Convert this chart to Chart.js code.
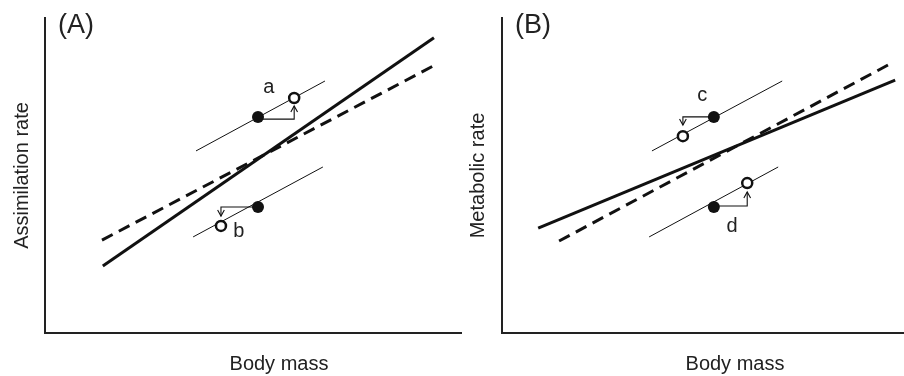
<!DOCTYPE html>
<html>
<head>
<meta charset="utf-8">
<script src="https://cdn.jsdelivr.net/npm/chart.js@4/dist/chart.umd.min.js"></script>
<style>
  body { margin: 0; background: #fff; }
  #wrap { position: relative; width: 904px; height: 376px; }
  canvas { position: absolute; top: 0; }
  #cA { left: 0; }
  #cB { left: 450px; }
</style>
</head>
<body>
<div id="wrap">
  <canvas id="cA" width="462" height="376"></canvas>
  <canvas id="cB" width="454" height="376"></canvas>
</div>
<script>
// both panels use a 0..100 arbitrary scale (no ticks in the figure)
const axisRange = [0, 100];

// panel A - assimilation rate
const aSolidX = [13.9, 93.5], aSolidY = [21.3, 93.7];
const aDashX = [13.7, 93.8], aDashY = [29.5, 85.1];
const aUpperX = [36.3, 67.3], aUpperY = [57.8, 80.0];
const aLowerX = [35.6, 66.8], aLowerY = [30.5, 52.7];
const aFilledX = [51.2, 51.2], aFilledY = [68.6, 40.0];
const aOpenX = [59.9, 42.3], aOpenY = [74.6, 34.0];
const aArrow1X = [51.2, 59.9, 59.9], aArrow1Y = [67.9, 67.9, 72.1];
const aArrow2X = [51.2, 42.3, 42.3], aArrow2Y = [40.0, 40.0, 37.1];
const aLabels = ["a", "b"], aLabelX = [53.8, 46.6], aLabelY = [76.2, 30.5];

// panel B - metabolic rate
const bSolidX = [9.0, 97.8], bSolidY = [33.3, 80.3];
const bDashX = [14.2, 96.5], bDashY = [29.2, 85.4];
const bUpperX = [37.3, 69.7], bUpperY = [57.8, 80.0];
const bLowerX = [36.6, 68.7], bLowerY = [30.5, 52.7];
const bFilledX = [52.7, 52.7], bFilledY = [68.6, 40.0];
const bOpenX = [45.0, 61.0], bOpenY = [62.5, 47.6];
const bArrow1X = [52.7, 45.0, 45.0], bArrow1Y = [68.6, 68.6, 66.0];
const bArrow2X = [52.7, 61.0, 61.0], bArrow2Y = [40.3, 40.3, 44.8];
const bLabels = ["c", "d"], bLabelX = [49.8, 57.2], bLabelY = [73.7, 32.1];

const FONT = "'Liberation Sans', Arial, Helvetica, sans-serif";
const INK = "#111";

const pts = (xs, ys) => xs.map((x, i) => ({ x: x, y: ys[i] }));

const lineSet = (xs, ys, width, dash, extra = {}) => ({
  data: pts(xs, ys),
  showLine: true,
  borderColor: INK,
  borderWidth: width,
  borderDash: dash,
  pointRadius: 0,
  fill: false,
  ...extra,
});

// arrowheads (open V) at the end of arrow datasets + text labels
const annotate = {
  id: "annotate",
  afterDatasetsDraw(chart, args, opts) {
    const ctx = chart.ctx;
    const { x: sx, y: sy } = chart.scales;
    ctx.save();
    chart.data.datasets.forEach((ds, i) => {
      if (!ds.arrow) return;
      const d = ds.data;
      const n = d.length;
      const x1 = sx.getPixelForValue(d[n - 2].x), y1 = sy.getPixelForValue(d[n - 2].y);
      const x2 = sx.getPixelForValue(d[n - 1].x), y2 = sy.getPixelForValue(d[n - 1].y);
      const ang = Math.atan2(y2 - y1, x2 - x1);
      const len = 7, spread = 0.5;
      ctx.strokeStyle = INK;
      ctx.lineWidth = 1.1;
      ctx.beginPath();
      ctx.moveTo(x2 - len * Math.cos(ang - spread), y2 - len * Math.sin(ang - spread));
      ctx.lineTo(x2, y2);
      ctx.lineTo(x2 - len * Math.cos(ang + spread), y2 - len * Math.sin(ang + spread));
      ctx.stroke();
    });
    ctx.fillStyle = "#222";
    ctx.font = "20px " + FONT;
    ctx.textAlign = "center";
    ctx.textBaseline = "alphabetic";
    opts.labels.forEach((t, i) => {
      ctx.fillText(t, sx.getPixelForValue(opts.lx[i]), sy.getPixelForValue(opts.ly[i]));
    });
    // x axis title sits right of the axis centre in the original figure
    ctx.fillText(opts.xTitle, opts.xTitleX, 370);
    ctx.font = "27px " + FONT;
    ctx.textAlign = "left";
    ctx.fillText(opts.panel, chart.chartArea.left + 13, 33);
    ctx.restore();
  },
};

function makePanel(canvasId, cfg) {
  const datasets = [
    { data: pts(cfg.filledX, cfg.filledY), pointRadius: 6, backgroundColor: INK, borderColor: INK, borderWidth: 0 },
    { data: pts(cfg.openX, cfg.openY), pointRadius: 5, backgroundColor: "#fff", borderColor: INK, borderWidth: 2.5 },
    lineSet(cfg.arrow1X, cfg.arrow1Y, 1.1, [], { arrow: true, borderJoinStyle: "miter" }),
    lineSet(cfg.arrow2X, cfg.arrow2Y, 1.1, [], { arrow: true, borderJoinStyle: "miter" }),
    lineSet(cfg.solidX, cfg.solidY, 3, []),
    lineSet(cfg.dashX, cfg.dashY, 3, [12, 7]),
    lineSet(cfg.upperX, cfg.upperY, 1, []),
    lineSet(cfg.lowerX, cfg.lowerY, 1, []),
  ];
  return new Chart(document.getElementById(canvasId).getContext("2d"), {
    type: "scatter",
    data: { datasets: datasets },
    plugins: [annotate],
    options: {
      responsive: false,
      animation: false,
      events: [],
      layout: { autoPadding: false, padding: { top: 18, right: cfg.padRight, left: 0, bottom: 0 } },
      scales: {
        x: {
          min: axisRange[0],
          max: axisRange[1],
          grid: { display: false, drawTicks: false },
          ticks: { display: false },
          border: { display: true, width: 2, color: "#222" },
          title: { display: false },
          afterFit: (s) => { s.height = 43; },
        },
        y: {
          min: axisRange[0],
          max: axisRange[1],
          grid: { display: false, drawTicks: false },
          ticks: { display: false },
          border: { display: true, width: 2, color: "#222" },
          title: {
            display: true,
            text: cfg.yTitle,
            color: "#222",
            font: { family: FONT, size: 20 },
            padding: { top: cfg.yTitlePad, bottom: 0 },
          },
          afterFit: (s) => { s.width = cfg.yWidth; },
        },
      },
      plugins: {
        legend: { display: false },
        tooltip: { enabled: false },
        annotate: {
          labels: cfg.labels, lx: cfg.labelX, ly: cfg.labelY, panel: cfg.panel,
          xTitle: "Body mass", xTitleX: cfg.xTitleX,
        },
      },
    },
  });
}

makePanel("cA", {
  panel: "(A)", yTitle: "Assimilation rate", yWidth: 45, yTitlePad: 10, padRight: 1, xTitleX: 279,
  solidX: aSolidX, solidY: aSolidY, dashX: aDashX, dashY: aDashY,
  upperX: aUpperX, upperY: aUpperY, lowerX: aLowerX, lowerY: aLowerY,
  filledX: aFilledX, filledY: aFilledY, openX: aOpenX, openY: aOpenY,
  arrow1X: aArrow1X, arrow1Y: aArrow1Y, arrow2X: aArrow2X, arrow2Y: aArrow2Y,
  labels: aLabels, labelX: aLabelX, labelY: aLabelY,
});

makePanel("cB", {
  panel: "(B)", yTitle: "Metabolic rate", yWidth: 52, yTitlePad: 16, padRight: 0, xTitleX: 285,
  solidX: bSolidX, solidY: bSolidY, dashX: bDashX, dashY: bDashY,
  upperX: bUpperX, upperY: bUpperY, lowerX: bLowerX, lowerY: bLowerY,
  filledX: bFilledX, filledY: bFilledY, openX: bOpenX, openY: bOpenY,
  arrow1X: bArrow1X, arrow1Y: bArrow1Y, arrow2X: bArrow2X, arrow2Y: bArrow2Y,
  labels: bLabels, labelX: bLabelX, labelY: bLabelY,
});
</script>
</body>
</html>
